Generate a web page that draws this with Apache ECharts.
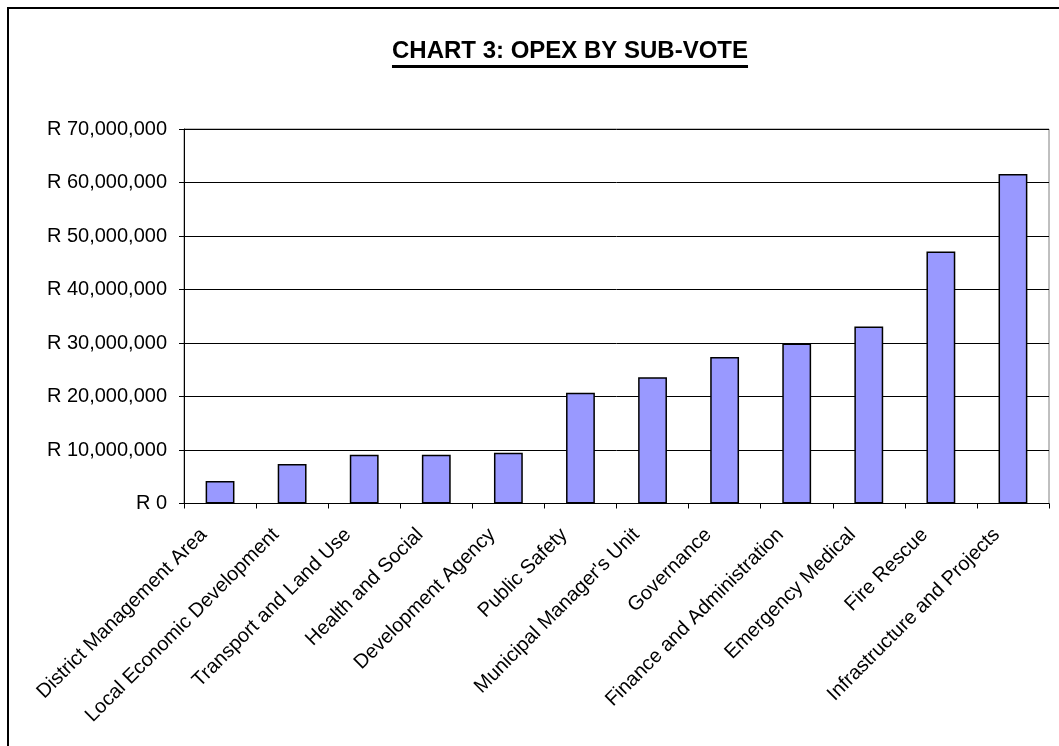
<!DOCTYPE html>
<html>
<head>
<meta charset="utf-8">
<title>Chart 3: OPEX by Sub-Vote</title>
<script src="https://cdn.jsdelivr.net/npm/echarts@6/dist/echarts.min.js"></script>
<style>
  html, body { margin: 0; padding: 0; background: #fff; overflow: hidden; }
  #chart { width: 1059px; height: 746px; }
</style>
</head>
<body>
<div id="chart"></div>
<script>
// Operating expenditure per sub-vote (Rand)
const subVotes = [
  'District Management Area',
  'Local Economic Development',
  'Transport and Land Use',
  'Health and Social',
  'Development Agency',
  'Public Safety',
  "Municipal Manager's Unit",
  'Governance',
  'Finance and Administration',
  'Emergency Medical',
  'Fire Rescue',
  'Infrastructure and Projects'
];
const opex = [
  4200000, 7400000, 9100000, 9100000, 9500000, 20700000,
  23600000, 27400000, 29900000, 33100000, 47100000, 61600000
];
const axisMax = 70000000;
const axisStep = 10000000;
const titleText = 'CHART 3: OPEX BY SUB-VOTE';

const FONT = '"Liberation Sans", Arial, sans-serif';

function rand(v) {
  if (v === 0) return 'R 0';
  return 'R ' + v.toString().replace(/\B(?=(\d{3})+(?!\d))/g, ',');
}

// width of the title text, used for the underline
const titleFont = 'bold 24px "Liberation Sans", Arial, sans-serif';
const ctx = document.createElement('canvas').getContext('2d');
ctx.font = titleFont;
const titleW = ctx.measureText(titleText).width;
const titleCx = 570;

const chart = echarts.init(document.getElementById('chart'), null, { renderer: 'canvas' });
chart.setOption({
  animation: false,
  backgroundColor: '#fff',
  graphic: [
    {
      type: 'rect', silent: true,
      shape: { x: 8, y: 8, width: 1200, height: 900 },
      style: { fill: 'none', stroke: '#000', lineWidth: 2 }
    },
    {
      type: 'text', silent: true,
      x: titleCx, y: 39,
      style: {
        text: titleText, font: titleFont, fill: '#000',
        align: 'center', verticalAlign: 'top'
      }
    },
    {
      type: 'rect', silent: true,
      shape: { x: titleCx - titleW / 2, y: 65, width: titleW, height: 3 },
      style: { fill: '#000' }
    }
  ],
  grid: {
    left: 184, right: 10, top: 129, bottom: 242.5,
    show: true, borderColor: '#808080', borderWidth: 1,
    containLabel: false
  },
  xAxis: {
    type: 'category',
    data: subVotes,
    axisLine: { lineStyle: { color: '#000', width: 1 } },
    axisTick: { show: true, length: 5, lineStyle: { color: '#000' } },
    axisLabel: {
      rotate: 45, interval: 0, margin: 12,
      padding: [0, 23, 0, 0],
      color: '#000', fontFamily: FONT, fontSize: 20
    }
  },
  yAxis: {
    type: 'value',
    min: 0, max: axisMax, interval: axisStep,
    axisLine: { show: true, lineStyle: { color: '#000', width: 1 } },
    axisTick: { show: true, length: 5, lineStyle: { color: '#000' } },
    splitLine: { show: true, lineStyle: { color: '#000', width: 1 } },
    axisLabel: {
      formatter: rand, margin: 17,
      color: '#000', fontFamily: FONT, fontSize: 20
    }
  },
  series: [{
    type: 'bar',
    data: opex,
    barCategoryGap: '60%',
    itemStyle: { color: '#9999FF', borderColor: '#000', borderWidth: 1.5 }
  }]
});
</script>
</body>
</html>
